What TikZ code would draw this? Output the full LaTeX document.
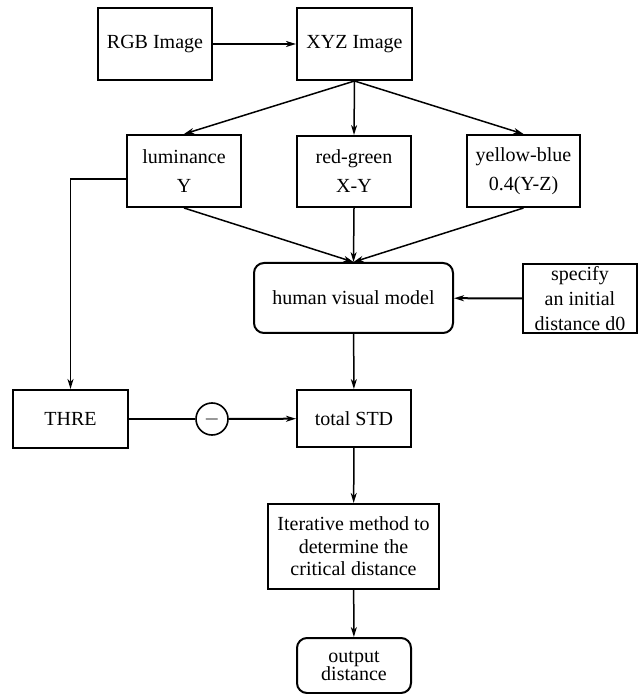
\documentclass[tikz,border=0pt]{standalone}
\usepackage{fontspec}
\setmainfont{Liberation Serif}
\usetikzlibrary{arrows.meta}

\begin{document}
\begin{tikzpicture}[y=-0.5pt,x=0.5pt,
	box/.style={draw,line width=1pt,inner sep=0pt,align=center,font=\fontsize{10}{12}\selectfont},
	rbox/.style={box,rounded corners=5pt},
	arr/.style={-{Stealth[length=5pt,width=3pt,inset=1.5pt]},line width=0.75pt},
	harr/.style={arr,line width=1pt}]
	\useasboundingbox (0,0) rectangle (640,694);

	\node[box,minimum width=57pt,minimum height=36pt] (rgb) at (155,44) {RGB Image};
	\node[box,minimum width=57.5pt,minimum height=36pt] (xyz) at (354.5,44) {XYZ Image};

	\node[box,minimum width=57pt,minimum height=36pt] (lum) at (184,171) {luminance\\[2.5pt]Y};
	\node[box,minimum width=57pt,minimum height=35.5pt] (rg) at (354,171.5) {red-green\\[2.5pt]X-Y};
	\node[box,minimum width=56.5pt,minimum height=36pt] (yb) at (523.5,171) {yellow-blue\\[2.5pt]0.4(Y-Z)};

	\node[rbox,minimum width=99.5pt,minimum height=35pt] (hvm) at (353.5,298) {human visual model};
	\node[box,minimum width=57pt,minimum height=34.5pt] (spec) at (580,298.5) {specify\\[0.5pt]an initial\\[0.5pt]distance d0};

	\node[box,minimum width=57.5pt,minimum height=29pt] (thre) at (70.5,419) {THRE};
	\node[draw,circle,line width=0.8pt,inner sep=0pt,minimum size=16pt] (minus) at (212,419) {$-$};
	\node[box,minimum width=57pt,minimum height=28.5pt] (tstd) at (354,418.5) {total STD};

	\node[box,minimum width=85.5pt,minimum height=42.5pt] (iter) at (353.5,546.5) {Iterative method to\\[-0.75pt]determine the\\[-0.75pt]critical distance};
	\node[rbox,minimum width=57pt,minimum height=27.5pt] (out) at (354,665.5) {output\\[-3pt]distance};

	\draw[harr] (rgb) -- (xyz);
	\draw[arr] (xyz.south) -- (lum.north);
	\draw[arr] (xyz.south) -- (rg.north);
	\draw[arr] (xyz.south) -- (yb.north);
	\draw[arr] (lum.south) -- (hvm.north);
	\draw[arr] (rg.south) -- (hvm.north);
	\draw[arr] (yb.south) -- (hvm.north);
	\draw[harr] (spec) -- (hvm);
	\draw[arr] (hvm) -- (tstd);
	\draw[arr] ([yshift=-4pt]lum.west) -| (thre.north);
	\draw[line width=1pt] (thre) -- (minus);
	\draw[harr] (minus) -- (tstd);
	\draw[arr] (tstd) -- (iter);
	\draw[arr] (iter) -- (out);
\end{tikzpicture}
\end{document}
